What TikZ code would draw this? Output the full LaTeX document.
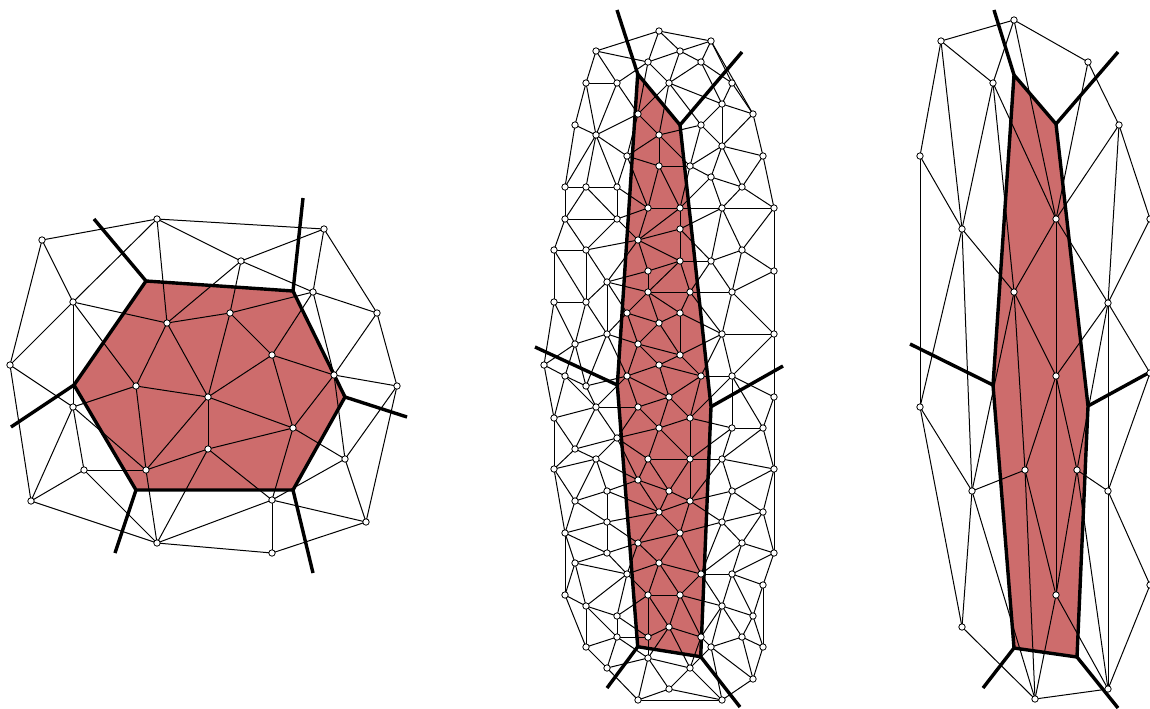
\documentclass[tikz,border=0pt]{standalone}
\usepackage{tikz}
\definecolor{cellred}{RGB}{205,108,108}
\begin{document}
\begin{tikzpicture}[x=0.5pt,y=-0.5pt,line cap=butt,line join=miter,
                    mesh/.style={line width=0.5pt},
                    seam/.style={line width=1.7pt},
                    vtx/.style={circle,draw,fill=white,line width=0.4pt,inner sep=0pt,minimum size=3.2pt}]
\useasboundingbox (0,0) rectangle (1150,708);
% ---- left: hexagon cell (px, origin top left, y down) ----
\coordinate (L1) at (157,219);\coordinate (L2) at (42,240);\coordinate (L3) at (73,302);
\coordinate (L4) at (10,365);\coordinate (L5) at (167,323);\coordinate (L6) at (136,386);
\coordinate (L7) at (324,229);\coordinate (L8) at (241,261);\coordinate (L9) at (313,292);
\coordinate (L10) at (377,313);\coordinate (L11) at (230,313);\coordinate (L12) at (272,355);
\coordinate (L13) at (334,375);\coordinate (L14) at (397,386);\coordinate (L15) at (73,407);
\coordinate (L16) at (208,397);\coordinate (L17) at (208,449);\coordinate (L18) at (84,470);
\coordinate (L19) at (146,470);\coordinate (L20) at (31,501);\coordinate (L21) at (157,543);
\coordinate (L22) at (293,428);\coordinate (L23) at (345,459);\coordinate (L24) at (272,500);
\coordinate (L25) at (366,522);\coordinate (L26) at (272,553);
\coordinate (Ha) at (146,281);\coordinate (Hb) at (293,291);\coordinate (Hc) at (345,397);
\coordinate (Hd) at (293,490);\coordinate (He) at (136,490);\coordinate (Hf) at (74,385);
\coordinate (Ha') at (94,219);\coordinate (Hb') at (303,198);\coordinate (Hc') at (407,417);
\coordinate (Hd') at (313,573);\coordinate (He') at (115,553);\coordinate (Hf') at (11,427);
% ---- middle: long cell ----
\coordinate (m1) at (659,31);\coordinate (m2) at (711,41);\coordinate (m3) at (596,51);
\coordinate (m4) at (680,51);\coordinate (m5) at (648,62);\coordinate (m6) at (701,62);
\coordinate (m7) at (586,83);\coordinate (m8) at (617,83);\coordinate (m9) at (669,83);
\coordinate (m10) at (732,83);\coordinate (m11) at (722,104);\coordinate (m12) at (638,114);
\coordinate (m13) at (753,114);\coordinate (m14) at (575,125);\coordinate (m15) at (701,125);
\coordinate (m16) at (596,135);\coordinate (m17) at (659,135);\coordinate (m18) at (722,146);
\coordinate (m19) at (627,156);\coordinate (m20) at (763,156);\coordinate (m21) at (659,166);
\coordinate (m22) at (690,166);\coordinate (m23) at (711,177);\coordinate (m24) at (565,187);
\coordinate (m25) at (586,187);\coordinate (m26) at (617,187);\coordinate (m27) at (742,187);
\coordinate (m28) at (648,208);\coordinate (m29) at (680,208);\coordinate (m30) at (722,208);
\coordinate (m31) at (774,208);\coordinate (m32) at (565,219);\coordinate (m33) at (617,219);
\coordinate (m34) at (680,229);\coordinate (m35) at (638,240);\coordinate (m36) at (554,250);
\coordinate (m37) at (586,250);\coordinate (m38) at (742,250);\coordinate (m39) at (680,261);
\coordinate (m40) at (711,261);\coordinate (m41) at (648,271);\coordinate (m42) at (774,271);
\coordinate (m43) at (607,282);\coordinate (m44) at (648,292);\coordinate (m45) at (690,292);
\coordinate (m46) at (732,292);\coordinate (m47) at (554,302);\coordinate (m48) at (586,302);
\coordinate (m49) at (627,313);\coordinate (m50) at (680,313);\coordinate (m51) at (659,323);
\coordinate (m52) at (607,334);\coordinate (m53) at (722,334);\coordinate (m54) at (774,334);
\coordinate (m55) at (575,344);\coordinate (m56) at (638,344);\coordinate (m57) at (680,355);
\coordinate (m58) at (544,365);\coordinate (m59) at (659,365);\coordinate (m60) at (565,376);
\coordinate (m61) at (627,376);\coordinate (m62) at (701,376);\coordinate (m63) at (732,376);
\coordinate (m64) at (586,386);\coordinate (m65) at (669,397);\coordinate (m66) at (774,397);
\coordinate (m67) at (596,407);\coordinate (m68) at (638,407);\coordinate (m69) at (554,418);
\coordinate (m70) at (690,418);\coordinate (m71) at (659,428);\coordinate (m72) at (732,428);
\coordinate (m73) at (763,428);\coordinate (m74) at (617,438);\coordinate (m75) at (575,449);
\coordinate (m76) at (596,459);\coordinate (m77) at (648,459);\coordinate (m78) at (690,459);
\coordinate (m79) at (722,459);\coordinate (m80) at (554,469);\coordinate (m81) at (774,469);
\coordinate (m82) at (638,480);\coordinate (m83) at (607,491);\coordinate (m84) at (669,491);
\coordinate (m85) at (732,491);\coordinate (m86) at (575,501);\coordinate (m87) at (690,501);
\coordinate (m88) at (659,512);\coordinate (m89) at (763,512);\coordinate (m90) at (607,522);
\coordinate (m91) at (722,522);\coordinate (m92) at (565,533);\coordinate (m93) at (680,533);
\coordinate (m94) at (638,543);\coordinate (m95) at (742,543);\coordinate (m96) at (607,553);
\coordinate (m97) at (774,553);\coordinate (m98) at (575,563);\coordinate (m99) at (659,563);
\coordinate (m100) at (627,574);\coordinate (m101) at (701,574);\coordinate (m102) at (732,574);
\coordinate (m103) at (763,585);\coordinate (m104) at (565,595);\coordinate (m105) at (648,595);
\coordinate (m106) at (680,595);\coordinate (m107) at (586,606);\coordinate (m108) at (722,606);
\coordinate (m109) at (617,616);\coordinate (m110) at (753,616);\coordinate (m111) at (669,627);
\coordinate (m112) at (617,637);\coordinate (m113) at (648,637);\coordinate (m114) at (742,637);
\coordinate (m115) at (701,637);\coordinate (m116) at (586,647);\coordinate (m117) at (711,647);
\coordinate (m118) at (763,647);\coordinate (m119) at (648,658);\coordinate (m120) at (607,668);
\coordinate (m121) at (690,668);\coordinate (m122) at (753,679);\coordinate (m123) at (669,689);
\coordinate (m124) at (638,700);\coordinate (m125) at (722,700);
\coordinate (Ma) at (637.7,74);\coordinate (Mb) at (680,125);\coordinate (Mc) at (711,406.7);
\coordinate (Md) at (700.7,656.7);\coordinate (Me) at (637.7,646.7);\coordinate (Mf) at (617.3,385);
\coordinate (Ma') at (617,10);\coordinate (Mb') at (742,52);\coordinate (Mc') at (783,366);
\coordinate (Md') at (740,707);\coordinate (Me') at (607,688);\coordinate (Mf') at (535,347);
% ---- right: coarse mesh ----
\coordinate (R1) at (1014,20);\coordinate (R2) at (941,41);\coordinate (R3) at (1088,62);
\coordinate (R4) at (993,83);\coordinate (R5) at (1119,125);\coordinate (R6) at (920,156);
\coordinate (R7) at (1056,219);\coordinate (R8) at (962,229);\coordinate (R9) at (1150,219);
\coordinate (R10) at (1014,292);\coordinate (R11) at (1108,303);\coordinate (R12) at (1056,376);
\coordinate (R13) at (920,407);\coordinate (R14) at (1150,373);\coordinate (R15) at (1025,470);
\coordinate (R16) at (1077,470);\coordinate (R17) at (972,491);\coordinate (R18) at (1108,491);
\coordinate (R19) at (1056,595);\coordinate (R20) at (962,627);\coordinate (R21) at (1035,699);
\coordinate (R22) at (1108,689);\coordinate (R23) at (1150,585);
\coordinate (Ra) at (1014,75);\coordinate (Rb) at (1056,124);\coordinate (Rc) at (1088,406);
\coordinate (Rd) at (1077,657);\coordinate (Re) at (1014,648);\coordinate (Rf) at (993,385);
\coordinate (Ra') at (994,10);\coordinate (Rb') at (1118,52);\coordinate (Rc') at (1152,371);
\coordinate (Rd') at (1118,708);\coordinate (Re') at (983,688);\coordinate (Rf') at (910,344);
% ---- cell fills ----
\fill[cellred] (Ha)--(Hb)--(Hc)--(Hd)--(He)--(Hf)--cycle;
\fill[cellred] (Ma)--(Mb)--(Mc)--(Md)--(Me)--(Mf)--cycle;
\fill[cellred] (Ra)--(Rb)--(Rc)--(Rd)--(Re)--(Rf)--cycle;
% ---- mesh edges ----
\foreach \a/\b in {1/2,1/7,2/3,2/4,1/3,3/4,1/5,3/5,3/6,3/15,5/6,5/8,1/8,5/11,5/16,7/8,8/11,8/9,
    7/9,7/10,9/10,9/11,9/12,9/13,10/13,10/14,13/14,11/12,11/16,12/13,12/16,12/22,13/22,14/23,
    14/25,13/23,16/22,17/22,22/23,22/24,17/24,16/17,17/19,17/21,21/24,23/24,24/25,24/26,21/26,
    25/26,23/25,6/16,16/19,6/19,6/15,15/19,15/18,15/20,4/15,18/19,18/20,18/21,19/21,20/21,4/20}
  \draw[mesh] (L\a)--(L\b);
\foreach \a/\b in {1/2,1/3,1/4,1/5,2/4,2/6,2/10,2/13,3/5,3/7,3/8,4/5,4/6,4/9,5/8,5/9,5/12,6/9,
    6/10,6/11,7/8,7/14,7/16,8/12,8/16,9/11,9/12,9/15,9/17,10/11,10/13,11/13,11/15,11/18,12/16,
    12/17,12/19,13/18,13/20,14/16,14/24,15/17,15/18,15/22,16/19,16/24,16/25,16/26,17/19,17/21,
    17/22,18/20,18/22,18/23,18/27,19/21,19/26,19/28,20/27,20/31,21/22,21/28,21/29,22/23,22/29,
    23/27,23/29,23/30,24/25,24/32,25/26,25/32,25/33,26/28,26/33,27/30,27/31,28/29,28/33,28/35,
    29/30,29/34,29/35,30/31,30/34,30/38,30/40,31/38,31/42,32/33,32/36,32/37,33/35,33/37,34/35,
    34/39,34/40,35/37,35/39,35/41,35/43,36/37,36/47,36/48,37/43,37/48,38/40,38/42,38/46,39/40,
    39/41,39/44,39/45,40/45,40/46,41/43,41/44,42/46,42/54,43/44,43/48,43/49,43/52,44/45,44/49,
    44/50,44/51,45/46,45/50,45/53,46/53,46/54,47/48,47/55,47/58,48/52,48/55,49/51,49/52,49/56,
    50/51,50/53,50/57,51/56,51/57,52/55,52/56,52/61,52/64,53/54,53/57,53/62,53/63,54/63,54/66,
    55/58,55/60,55/64,56/57,56/59,56/61,57/59,57/62,58/60,58/69,59/61,59/62,59/65,60/64,60/67,
    60/69,61/64,61/65,61/67,61/68,62/63,62/65,62/70,63/66,63/70,63/72,63/73,64/67,65/68,65/70,
    65/71,66/73,66/81,67/68,67/69,67/74,67/75,68/71,68/74,69/75,69/80,70/71,70/72,70/78,71/74,
    71/77,71/78,72/73,72/78,72/79,73/79,73/81,74/75,74/76,74/77,74/82,75/76,75/80,76/80,76/82,
    76/83,76/86,77/78,77/82,77/84,78/79,78/84,78/87,79/81,79/85,79/87,80/86,80/92,81/85,81/89,
    81/97,82/83,82/84,82/88,83/86,83/88,83/90,84/87,84/88,85/87,85/89,85/91,86/90,86/92,87/88,
    87/91,87/93,88/90,88/93,88/94,89/91,89/95,89/97,90/92,90/94,90/96,91/93,91/95,91/101,92/96,
    92/98,92/104,93/94,93/99,93/101,94/96,94/99,94/100,95/97,95/101,95/102,96/98,96/100,97/102,
    97/103,98/100,98/104,98/107,99/100,99/101,99/105,99/106,100/105,100/107,100/109,101/102,
    101/106,101/108,102/103,102/108,102/110,103/110,103/118,104/107,104/116,105/106,105/109,
    105/111,105/113,106/108,106/111,106/115,107/109,107/112,107/116,108/110,108/114,108/115,
    108/117,109/112,109/113,110/114,110/118,111/113,111/115,111/119,111/121,112/113,112/116,
    112/119,112/120,113/119,114/117,114/118,114/122,115/117,115/121,116/120,117/121,117/122,
    117/125,118/122,119/120,119/121,119/123,119/124,120/124,121/123,121/125,122/125,123/124,
    123/125,124/125}
  \draw[mesh] (m\a)--(m\b);
\foreach \a/\b in {1/2,1/3,1/4,1/7,2/4,2/6,2/8,4/8,4/7,4/10,3/5,3/7,5/7,5/11,5/9,6/8,6/13,8/10,
    8/13,8/17,7/10,7/12,7/11,10/12,10/15,10/17,11/12,11/18,11/14,9/11,11/16,12/15,12/16,12/19,
    13/17,13/20,14/18,15/17,15/19,15/21,16/19,16/18,16/22,17/20,17/21,18/22,18/23,19/21,19/22,
    20/21,21/22,22/23}
  \draw[mesh] (R\a)--(R\b);
% ---- cell boundaries and cut edges ----
\draw[seam] (Ha)--(Hb)--(Hc)--(Hd)--(He)--(Hf)--cycle;
\draw[seam] (Ha)--(Ha') (Hb)--(Hb') (Hc)--(Hc') (Hd)--(Hd') (He)--(He') (Hf)--(Hf');
\draw[seam] (Ma)--(Mb)--(Mc)--(Md)--(Me)--(Mf)--cycle;
\draw[seam] (Ma)--(Ma') (Mb)--(Mb') (Mc)--(Mc') (Md)--(Md') (Me)--(Me') (Mf)--(Mf');
\draw[seam] (Ra)--(Rb)--(Rc)--(Rd)--(Re)--(Rf)--cycle;
\draw[seam] (Ra)--(Ra') (Rb)--(Rb') (Rc)--(Rc') (Rd)--(Rd') (Re)--(Re') (Rf)--(Rf');
% ---- vertices ----
\foreach \i in {1,...,26} \node[vtx] (vL\i) at (L\i) {};
\foreach \i in {1,...,125} \node[vtx] (vm\i) at (m\i) {};
\foreach \i in {1,...,23} \node[vtx] (vR\i) at (R\i) {};
\end{tikzpicture}
\end{document}
